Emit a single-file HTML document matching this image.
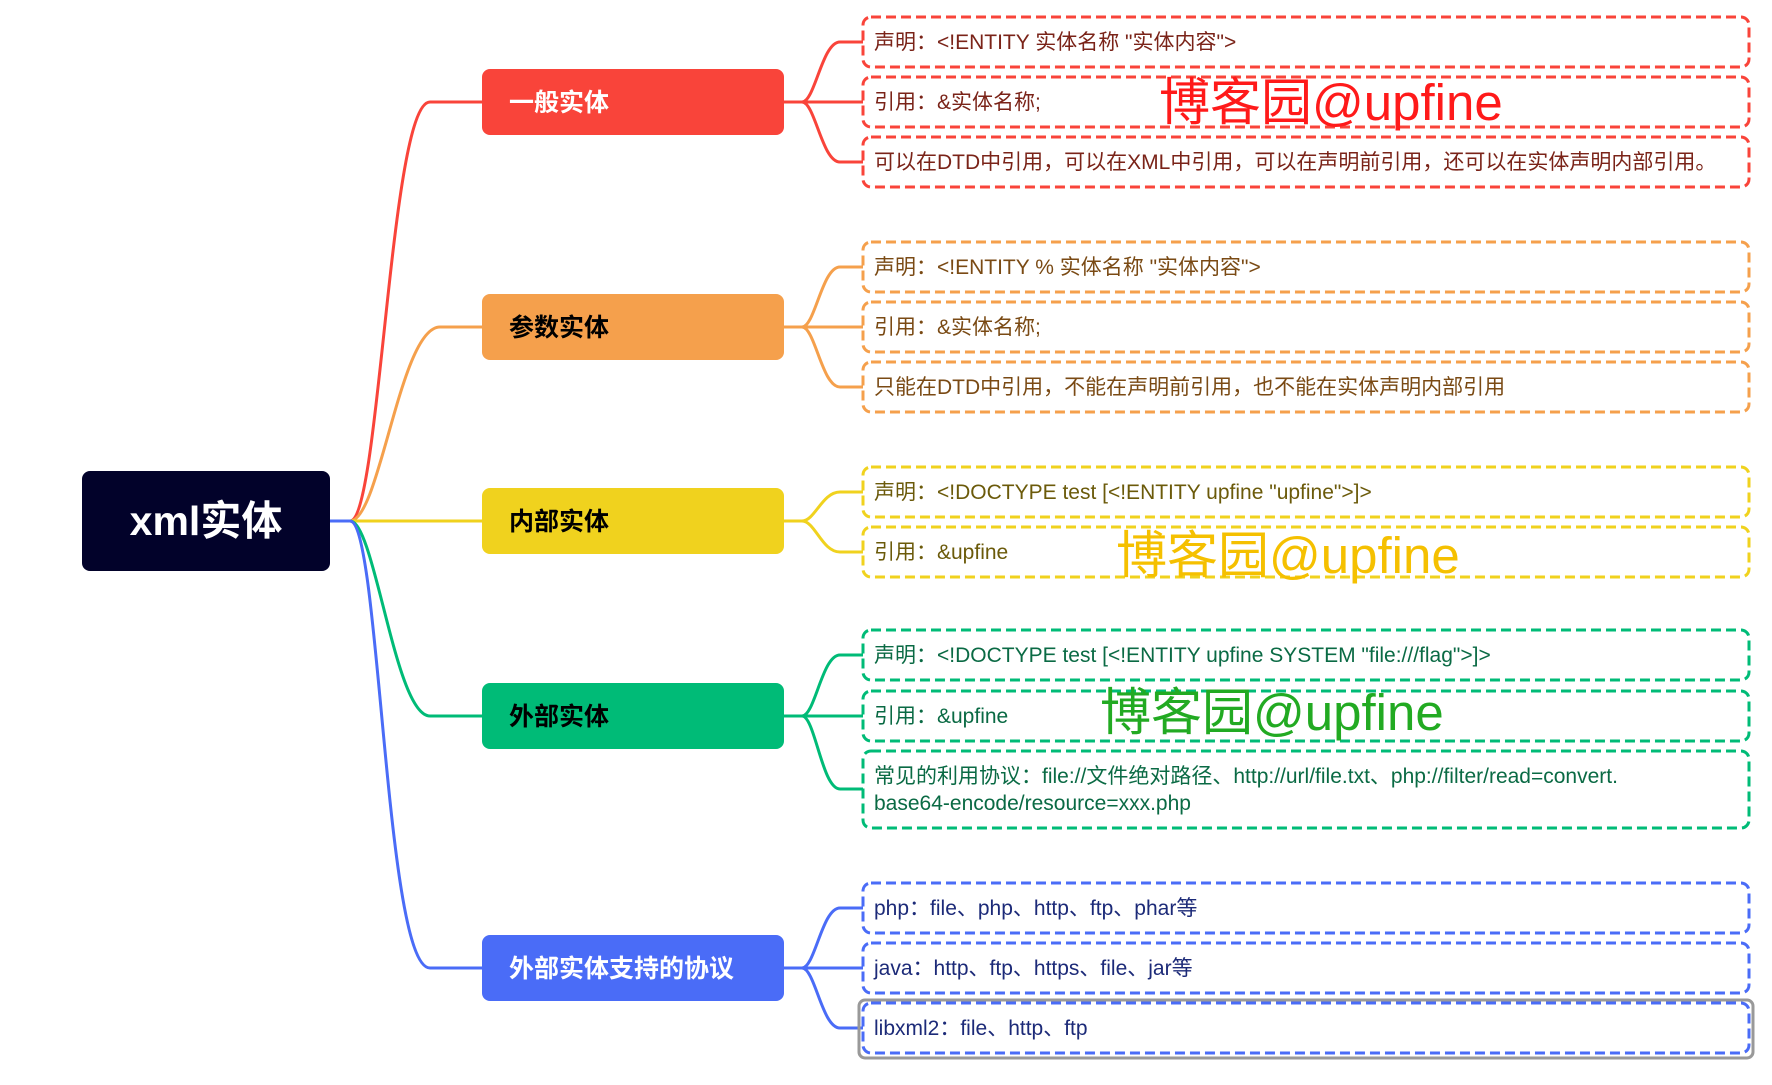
<!DOCTYPE html>
<html><head><meta charset="utf-8"><style>
html,body{margin:0;padding:0;background:#fff;}
svg{display:block;}
text{font-family:"Liberation Sans","Noto Sans CJK SC",sans-serif;}
</style></head><body>
<svg width="1772" height="1085" viewBox="0 0 1772 1085" xmlns="http://www.w3.org/2000/svg">
<g fill="none" stroke-width="3">
<path d="M330 521 H350 C380 521 390 102 430 102 H482" stroke="#f9443a"/>
<path d="M330 521 H350 C380 521 400 327 440 327 H482" stroke="#f5a04c"/>
<path d="M330 521 H482" stroke="#f0d21e"/>
<path d="M330 521 H350 C375 521 395 716 430 716 H482" stroke="#00bb77"/>
<path d="M330 521 H350 C380 521 385 968 430 968 H482" stroke="#4a6cf7"/>
<g stroke="#f9443a">
<path d="M784 102 H802 C815 102 822 42 840 42 H863"/><path d="M784 102 H863"/><path d="M802 102 C815 102 822 162 840 162 H863"/></g>
<g stroke="#f5a04c">
<path d="M784 327 H802 C815 327 822 267 840 267 H863"/><path d="M784 327 H863"/><path d="M802 327 C815 327 822 387 840 387 H863"/></g>
<g stroke="#f0d21e">
<path d="M784 521 H802 C815 521 822 492 840 492 H863"/><path d="M802 521 C815 521 822 552 840 552 H863"/></g>
<g stroke="#00bb77">
<path d="M784 716 H802 C815 716 822 655 840 655 H863"/><path d="M784 716 H863"/><path d="M802 716 C815 716 822 789 840 789 H863"/></g>
<g stroke="#4a6cf7">
<path d="M784 968 H802 C815 968 822 908 840 908 H863"/><path d="M784 968 H863"/><path d="M802 968 C815 968 822 1028 840 1028 H863"/></g>
</g>
<rect x="82" y="471" width="248" height="100" rx="8" fill="#02022a"/>
<text x="206" y="535" font-size="41" font-weight="bold" fill="#fff" text-anchor="middle">xml实体</text>
<rect x="482" y="69" width="302" height="66" rx="8" fill="#f9443a"/>
<text x="509" y="111" font-size="25" font-weight="bold" fill="#fff">一般实体</text>
<rect x="482" y="294" width="302" height="66" rx="8" fill="#f5a04c"/>
<text x="509" y="336" font-size="25" font-weight="bold" fill="#000">参数实体</text>
<rect x="482" y="488" width="302" height="66" rx="8" fill="#f0d21e"/>
<text x="509" y="530" font-size="25" font-weight="bold" fill="#000">内部实体</text>
<rect x="482" y="683" width="302" height="66" rx="8" fill="#00bb77"/>
<text x="509" y="725" font-size="25" font-weight="bold" fill="#000">外部实体</text>
<rect x="482" y="935" width="302" height="66" rx="8" fill="#4a6cf7"/>
<text x="509" y="977" font-size="25" font-weight="bold" fill="#fff">外部实体支持的协议</text>
<rect x="859" y="1000" width="894" height="58" rx="6" fill="none" stroke="#999" stroke-width="3"/>
<g fill="none" stroke-width="3" stroke-dasharray="10 5">
<rect x="863" y="17" width="886" height="50" rx="8" stroke="#f9443a"/>
<rect x="863" y="77" width="886" height="50" rx="8" stroke="#f9443a"/>
<rect x="863" y="137" width="886" height="50" rx="8" stroke="#f9443a"/>
<rect x="863" y="242" width="886" height="50" rx="8" stroke="#f5a04c"/>
<rect x="863" y="302" width="886" height="50" rx="8" stroke="#f5a04c"/>
<rect x="863" y="362" width="886" height="50" rx="8" stroke="#f5a04c"/>
<rect x="863" y="467" width="886" height="50" rx="8" stroke="#f0d21e"/>
<rect x="863" y="527" width="886" height="50" rx="8" stroke="#f0d21e"/>
<rect x="863" y="630" width="886" height="50" rx="8" stroke="#00bb77"/>
<rect x="863" y="691" width="886" height="50" rx="8" stroke="#00bb77"/>
<rect x="863" y="751" width="886" height="77" rx="8" stroke="#00bb77"/>
<rect x="863" y="883" width="886" height="50" rx="8" stroke="#4a6cf7"/>
<rect x="863" y="943" width="886" height="50" rx="8" stroke="#4a6cf7"/>
<rect x="863" y="1003" width="886" height="50" rx="8" stroke="#4a6cf7"/>
</g>
<g font-size="21">
<text x="874" y="49" fill="#7a2318">声明：&lt;!ENTITY 实体名称 "实体内容"&gt;</text>
<text x="874" y="109" fill="#7a2318">引用：&amp;实体名称;</text>
<text x="874" y="169" fill="#7a2318">可以在DTD中引用，可以在XML中引用，可以在声明前引用，还可以在实体声明内部引用。</text>
<text x="874" y="274" fill="#7a4a14">声明：&lt;!ENTITY % 实体名称 "实体内容"&gt;</text>
<text x="874" y="334" fill="#7a4a14">引用：&amp;实体名称;</text>
<text x="874" y="394" fill="#7a4a14">只能在DTD中引用，不能在声明前引用，也不能在实体声明内部引用</text>
<text x="874" y="499" fill="#6b5a0a">声明：&lt;!DOCTYPE test [&lt;!ENTITY upfine "upfine"&gt;]&gt;</text>
<text x="874" y="559" fill="#6b5a0a">引用：&amp;upfine</text>
<text x="874" y="662" fill="#0a6a44">声明：&lt;!DOCTYPE test [&lt;!ENTITY upfine SYSTEM "file:///flag"&gt;]&gt;</text>
<text x="874" y="723" fill="#0a6a44">引用：&amp;upfine</text>
<text x="874" y="783" fill="#0a6a44">常见的利用协议：file://文件绝对路径、http://url/file.txt、php://filter/read=convert.</text>
<text x="874" y="810" fill="#0a6a44">base64-encode/resource=xxx.php</text>
<text x="874" y="915" fill="#1c2a78">php：file、php、http、ftp、phar等</text>
<text x="874" y="975" fill="#1c2a78">java：http、ftp、https、file、jar等</text>
<text x="874" y="1035" fill="#1c2a78">libxml2：file、http、ftp</text>
</g>
<text x="1159" y="120" font-size="51" fill="#ff1a1a">博客园@upfine</text>
<text x="1116" y="573" font-size="51" fill="#f5c000">博客园@upfine</text>
<text x="1100" y="730" font-size="51" fill="#22aa22">博客园@upfine</text>
</svg>
</body></html>
